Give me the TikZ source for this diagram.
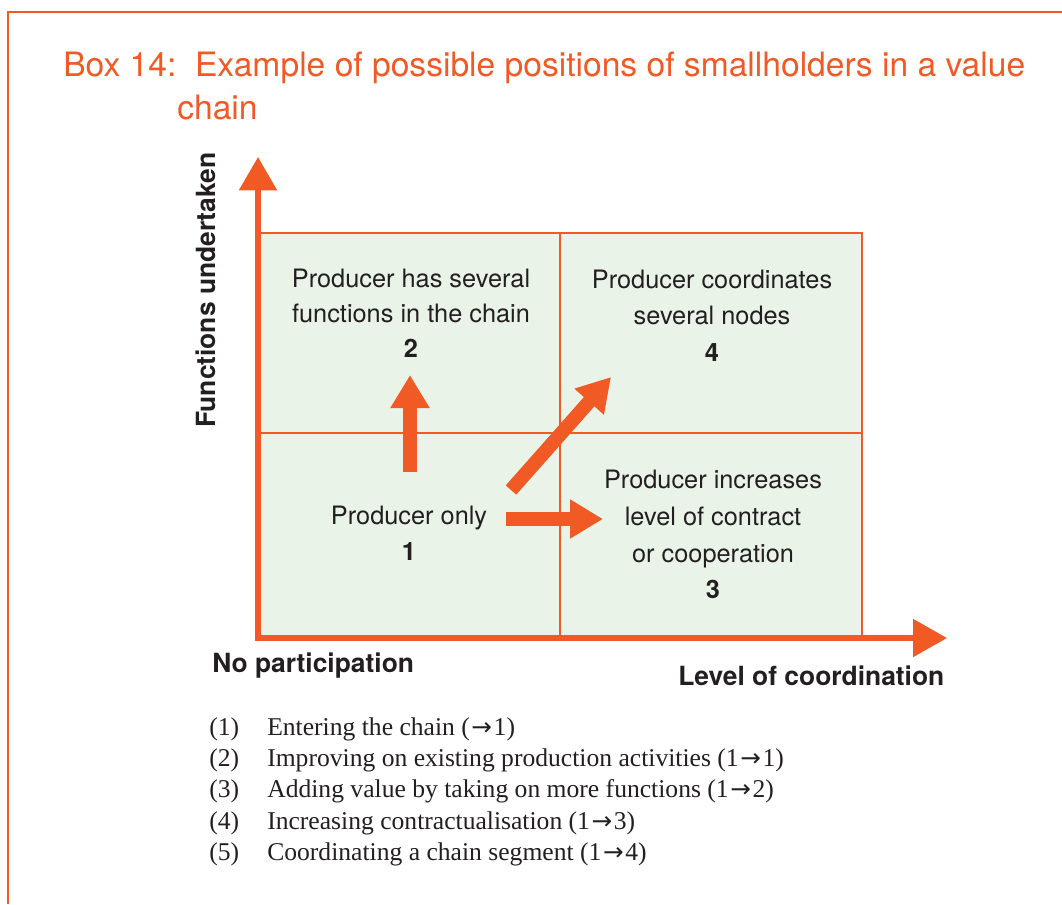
\documentclass[tikz,border=0pt]{standalone}
\usepackage{fontspec}
\setmainfont{Liberation Serif}
\newfontfamily\fut{TeX Gyre Heros}
\newfontfamily\arrfont{DejaVu Sans}
\newcommand{\rarr}{\kern1.2pt{\arrfont\fontsize{18.5pt}{18pt}\selectfont →}\kern1.2pt}
\usetikzlibrary{arrows.meta}
\definecolor{org}{HTML}{F15A24}
\definecolor{grn}{HTML}{E9F3E8}
\definecolor{ink}{HTML}{231F20}
\begin{document}
\begin{tikzpicture}[x=0.75pt,y=-0.75pt,
  qtxt/.style={text=ink,inner sep=0pt,anchor=base,font=\fut\fontsize{19pt}{23pt}\selectfont},
  qnum/.style={qtxt,font=\fut\bfseries\fontsize{19pt}{23pt}\selectfont},
  axlab/.style={text=ink,inner sep=0pt,anchor=base west,font=\fut\bfseries\fontsize{19.8pt}{23pt}\selectfont},
  ttl/.style={text=org,inner sep=0pt,anchor=base west,font=\fut\fontsize{25.2pt}{30pt}\selectfont},
  itm/.style={text=ink,inner sep=0pt,anchor=base west,font=\fontsize{19.2pt}{23pt}\selectfont},
  fatarrow/.style={draw=org,line width=10.5pt,-{Triangle[width=27.75pt,length=24.75pt]}},
  axis/.style={draw=org,line width=4.1pt,line join=miter,
    {Triangle[width=27.75pt,length=25pt]}-{Triangle[width=27.75pt,length=25.5pt]}},
  gridline/.style={draw=org,line width=1pt}
]
\useasboundingbox (0,0) rectangle (1062,904);
% frame
\draw[org,line width=1.6pt] (8,904) -- (8,12) -- (1062,12);
% title
\node[ttl] (title1) at (63,76) {Box 14:\ \ Example of possible positions of smallholders in a value};
\node[ttl] (title2) at (177,119) {chain};
% grid
\coordinate (O) at (258,638);
\coordinate (TR) at (862,233);
\fill[grn] (O) rectangle (TR);
\draw[gridline] (258,233) -- (862,233) -- (862,638);
\draw[gridline] (560,233) -- (560,638);
\draw[gridline] (258,433) -- (862,433);
% axes
\coordinate (ytip) at (258,157);
\coordinate (xtip) at (947,638);
\draw[axis] (ytip) -- (O) -- (xtip);
% quadrant texts
\node[qtxt] (q2a) at (411,287) {Producer has several};
\node[qtxt] (q2b) at (411,322) {functions in the chain};
\node[qnum] (q2) at (411,357) {2};
\node[qtxt] (q4a) at (712,288) {Producer coordinates};
\node[qtxt] (q4b) at (712,324) {several nodes};
\node[qnum] (q4) at (712,361) {4};
\node[qtxt] (q1a) at (409,524) {Producer only};
\node[qnum] (q1) at (409,560) {1};
\node[qtxt] (q3a) at (713,488) {Producer increases};
\node[qtxt] (q3b) at (713,525) {level of contract};
\node[qtxt] (q3c) at (713,562) {or cooperation};
\node[qnum] (q3) at (713,598) {3};
% arrows
\coordinate (a12s) at (410,472);
\coordinate (a12e) at (410,375);
\coordinate (a13s) at (506,519);
\coordinate (a13e) at (603,519);
\coordinate (a14s) at (511,490);
\coordinate (a14e) at (611,377);
\draw[fatarrow] (a12s) -- (a12e);
\draw[fatarrow] (a13s) -- (a13e);
\draw[fatarrow] (a14s) -- (a14e);
% axis labels
\node[axlab,rotate=90] (ylab) at (215,428) {Functions undertaken};
\node[axlab] (nopart) at (212,672) {No participation};
\node[axlab] (xlab) at (678,685) {Level of coordination};
% list
\node[itm] (n1) at (209,735) {(1)};
\node[itm] (t1) at (267,735) {Entering the chain (\rarr 1)};
\node[itm] (n2) at (209,766) {(2)};
\node[itm] (t2) at (267,766) {Improving on existing production activities (1\rarr 1)};
\node[itm] (n3) at (209,797) {(3)};
\node[itm] (t3) at (267,797) {Adding value by taking on more functions (1\rarr 2)};
\node[itm] (n4) at (209,829) {(4)};
\node[itm] (t4) at (267,829) {Increasing contractualisation (1\rarr 3)};
\node[itm] (n5) at (209,860) {(5)};
\node[itm] (t5) at (267,860) {Coordinating a chain segment (1\rarr 4)};
\end{tikzpicture}
\end{document}
